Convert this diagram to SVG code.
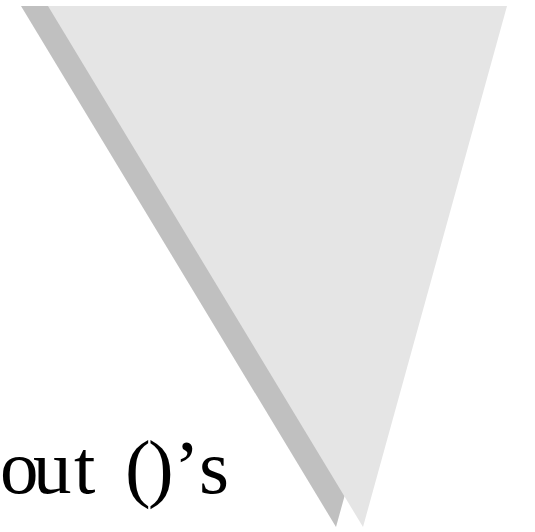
<svg xmlns="http://www.w3.org/2000/svg" width="535" height="532" viewBox="0 0 535 532">
<style>
.lbl{font-family:"Liberation Serif","Times New Roman",serif;font-size:77px;fill:#000}
</style>
<rect width="535" height="532" fill="#fff"/>
<g id="shadow"><polygon points="21,6 480,6 336,527" fill="#c0c0c0"/></g>
<g id="triangle"><polygon points="48,6 507,6 363,527" fill="#e5e5e5"/></g>
<g id="label"><text class="lbl" x="0 33 74 96 125 148 174 199" y="493">out ()’s</text></g>
</svg>
